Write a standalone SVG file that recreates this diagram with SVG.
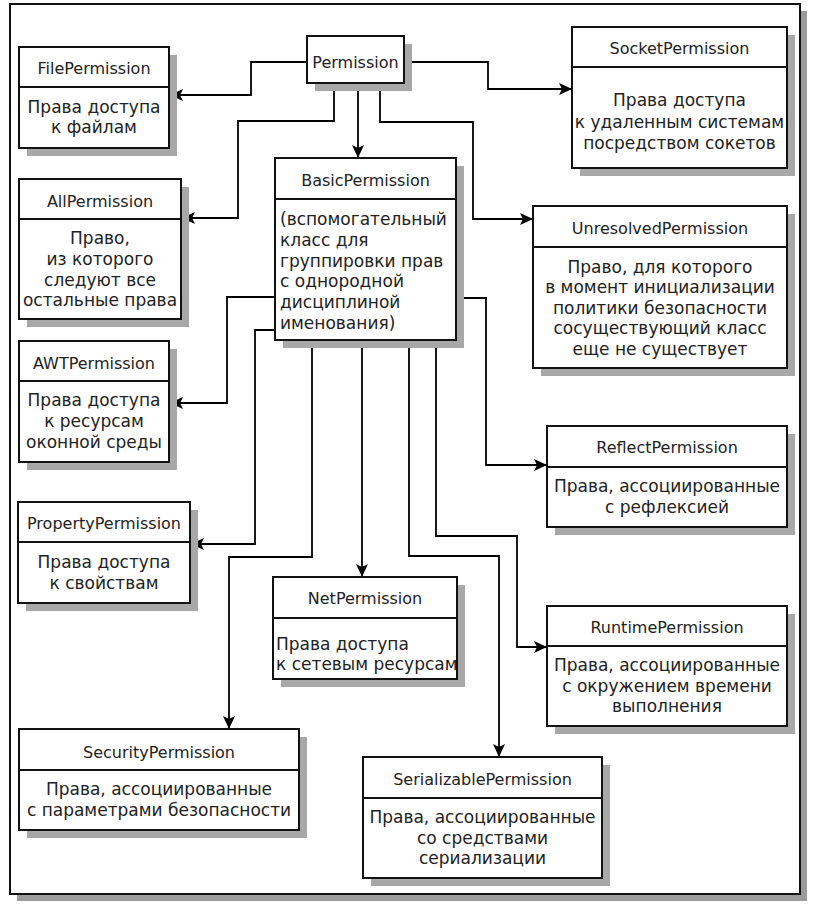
<svg xmlns="http://www.w3.org/2000/svg" width="813" height="907" viewBox="0 0 813 907">
<defs>
<marker id="arr" markerUnits="userSpaceOnUse" markerWidth="14" markerHeight="12" refX="13" refY="6" orient="auto">
<path d="M0,0 L13,6 L0,12 L3,6 Z" fill="#000"/>
</marker>
<style>
.sh{fill:#a8a8a8}
.bx{fill:#fff;stroke:#111;stroke-width:2}
.dv{stroke:#111;stroke-width:2}
.t{font-family:"DejaVu Sans","Liberation Sans",sans-serif;font-size:16px;fill:#222;text-anchor:middle}
.b{font-family:"DejaVu Sans","Liberation Sans",sans-serif;font-size:17px;fill:#222;text-anchor:middle}
.l{text-anchor:start}
.c{fill:none;stroke:#000;stroke-width:1.8;marker-end:url(#arr)}
</style>
</defs>
<rect width="813" height="907" fill="#fff"/>
<rect x="17" y="11" width="790" height="890" fill="#9a9a9a"/>
<rect x="10" y="4" width="790" height="890" fill="#fff" stroke="#111" stroke-width="2"/>

<g id="connectors">
<path class="c" d="M307,62 H251 V95 H170"/>
<path class="c" d="M404,62 H488 V89 H572"/>
<path class="c" d="M334,83 V121 H238 V218 H182"/>
<path class="c" d="M358,83 V158"/>
<path class="c" d="M380,83 V122 H473 V219 H533"/>
<path class="c" d="M275,297 H227 V403 H170"/>
<path class="c" d="M275,330 H255 V544 H191"/>
<path class="c" d="M312,340 V557 H229 V729"/>
<path class="c" d="M362,340 V577"/>
<path class="c" d="M409,340 V556 H499 V757"/>
<path class="c" d="M436,340 V536 H517 V647 H547"/>
<path class="c" d="M456,298 H486 V465 H547"/>
</g>

<g id="Permission">
<rect class="sh" x="315" y="44" width="97" height="47"/>
<rect class="bx" x="307" y="36" width="97" height="47"/>
<text class="t" x="355.5" y="67.5">Permission</text>
</g>

<g id="FilePermission">
<rect class="sh" x="27" y="55" width="150" height="101"/>
<rect class="bx" x="19" y="47" width="150" height="101"/>
<line class="dv" x1="19" y1="87" x2="169" y2="87"/>
<text class="t" x="94" y="73.5">FilePermission</text>
<text class="b" x="94" y="113">Права доступа</text>
<text class="b" x="94" y="133">к файлам</text>
</g>

<g id="SocketPermission">
<rect class="sh" x="580" y="35" width="215" height="141"/>
<rect class="bx" x="572" y="27" width="215" height="141"/>
<line class="dv" x1="572" y1="67" x2="787" y2="67"/>
<text class="t" x="679.5" y="53.5">SocketPermission</text>
<text class="b" x="679.5" y="106">Права доступа</text>
<text class="b" x="679.5" y="128">к удаленным системам</text>
<text class="b" x="679.5" y="149">посредством сокетов</text>
</g>

<g id="AllPermission">
<rect class="sh" x="27" y="187" width="162" height="140"/>
<rect class="bx" x="19" y="179" width="162" height="140"/>
<line class="dv" x1="19" y1="219" x2="181" y2="219"/>
<text class="t" x="100" y="206.5">AllPermission</text>
<text class="b" x="100" y="244">Право,</text>
<text class="b" x="100" y="265">из которого</text>
<text class="b" x="100" y="286">следуют все</text>
<text class="b" x="100" y="306">остальные права</text>
</g>

<g id="BasicPermission">
<rect class="sh" x="283" y="166" width="181" height="182"/>
<rect class="bx" x="275" y="158" width="181" height="182"/>
<line class="dv" x1="275" y1="199" x2="456" y2="199"/>
<text class="t" x="365.5" y="185.5">BasicPermission</text>
<text class="b l" x="280" y="224.5">(вспомогательный</text>
<text class="b l" x="280" y="245.5">класс для</text>
<text class="b l" x="280" y="266.5">группировки прав</text>
<text class="b l" x="280" y="286.5">с однородной</text>
<text class="b l" x="280" y="307.5">дисциплиной</text>
<text class="b l" x="280" y="328.5">именования)</text>
</g>

<g id="UnresolvedPermission">
<rect class="sh" x="541" y="214" width="254" height="162"/>
<rect class="bx" x="533" y="206" width="254" height="162"/>
<line class="dv" x1="533" y1="247" x2="787" y2="247"/>
<text class="t" x="660" y="233.5">UnresolvedPermission</text>
<text class="b" x="660" y="273">Право, для которого</text>
<text class="b" x="660" y="293">в момент инициализации</text>
<text class="b" x="660" y="314">политики безопасности</text>
<text class="b" x="660" y="334">сосуществующий класс</text>
<text class="b" x="660" y="355">еще не существует</text>
</g>

<g id="AWTPermission">
<rect class="sh" x="27" y="349" width="150" height="121"/>
<rect class="bx" x="19" y="341" width="150" height="121"/>
<line class="dv" x1="19" y1="381" x2="169" y2="381"/>
<text class="t" x="94" y="368.5">AWTPermission</text>
<text class="b" x="94" y="406">Права доступа</text>
<text class="b" x="94" y="427">к ресурсам</text>
<text class="b" x="94" y="448">оконной среды</text>
</g>

<g id="ReflectPermission">
<rect class="sh" x="555" y="434" width="240" height="101"/>
<rect class="bx" x="547" y="426" width="240" height="101"/>
<line class="dv" x1="547" y1="467" x2="787" y2="467"/>
<text class="t" x="667" y="452.5">ReflectPermission</text>
<text class="b" x="667" y="492">Права, ассоциированные</text>
<text class="b" x="667" y="513">с рефлексией</text>
</g>

<g id="PropertyPermission">
<rect class="sh" x="26" y="510" width="172" height="101"/>
<rect class="bx" x="18" y="502" width="172" height="101"/>
<line class="dv" x1="18" y1="542" x2="190" y2="542"/>
<text class="t" x="104" y="528.5">PropertyPermission</text>
<text class="b" x="104" y="568">Права доступа</text>
<text class="b" x="104" y="589">к свойствам</text>
</g>

<g id="NetPermission">
<rect class="sh" x="281" y="585" width="184" height="102"/>
<rect class="bx" x="273" y="577" width="184" height="102"/>
<line class="dv" x1="273" y1="618" x2="457" y2="618"/>
<text class="t" x="365" y="603.5">NetPermission</text>
<text class="b l" x="276" y="650">Права доступа</text>
<text class="b l" x="276" y="670">к сетевым ресурсам</text>
</g>

<g id="RuntimePermission">
<rect class="sh" x="555" y="614" width="240" height="120"/>
<rect class="bx" x="547" y="606" width="240" height="120"/>
<line class="dv" x1="547" y1="646" x2="787" y2="646"/>
<text class="t" x="667" y="632.5">RuntimePermission</text>
<text class="b" x="667" y="671">Права, ассоциированные</text>
<text class="b" x="667" y="692">с окружением времени</text>
<text class="b" x="667" y="712">выполнения</text>
</g>

<g id="SecurityPermission">
<rect class="sh" x="27" y="737" width="280" height="101"/>
<rect class="bx" x="19" y="729" width="280" height="101"/>
<line class="dv" x1="19" y1="770" x2="299" y2="770"/>
<text class="t" x="159" y="757.5">SecurityPermission</text>
<text class="b" x="159" y="795">Права, ассоциированные</text>
<text class="b" x="159" y="816">с параметрами безопасности</text>
</g>

<g id="SerializablePermission">
<rect class="sh" x="371" y="765" width="239" height="121"/>
<rect class="bx" x="363" y="757" width="239" height="121"/>
<line class="dv" x1="363" y1="798" x2="602" y2="798"/>
<text class="t" x="482.5" y="784.5">SerializablePermission</text>
<text class="b" x="482.5" y="823">Права, ассоциированные</text>
<text class="b" x="482.5" y="844">со средствами</text>
<text class="b" x="482.5" y="864">сериализации</text>
</g>
</svg>
